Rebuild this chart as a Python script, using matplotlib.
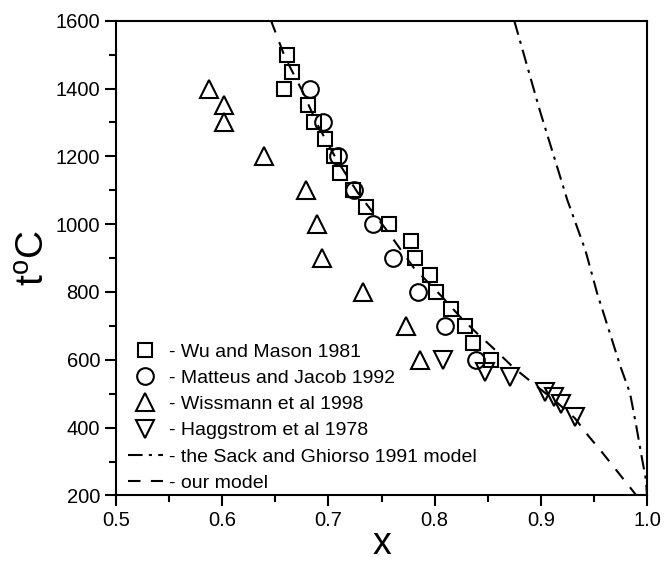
import matplotlib
matplotlib.use("Agg")
import matplotlib.pyplot as plt
from matplotlib.ticker import MultipleLocator, FormatStrFormatter

plt.rcParams['font.family'] = ['Liberation Sans', 'DejaVu Sans']
plt.rcParams['mathtext.fontset'] = 'custom'
plt.rcParams['mathtext.rm'] = 'Liberation Sans'

# Wu and Mason 1981 (squares)
wu_x = [0.661, 0.666, 0.658, 0.681, 0.686, 0.697, 0.705, 0.711, 0.723, 0.735,
        0.757, 0.778, 0.782, 0.796, 0.801, 0.815, 0.829, 0.836, 0.853]
wu_t = [1500, 1450, 1400, 1350, 1300, 1250, 1200, 1150, 1100, 1050,
        1000, 950, 900, 850, 800, 750, 700, 650, 600]

# Matteus and Jacob 1992 (circles)
mj_x = [0.683, 0.695, 0.709, 0.724, 0.742, 0.761, 0.784, 0.810, 0.839]
mj_t = [1400, 1300, 1200, 1100, 1000, 900, 800, 700, 600]

# Wissmann et al 1998 (triangles up)
wi_x = [0.588, 0.602, 0.602, 0.639, 0.679, 0.689, 0.694, 0.733, 0.773, 0.786]
wi_t = [1400, 1350, 1300, 1200, 1100, 1000, 900, 800, 700, 600]

# Haggstrom et al 1978 (triangles down)
ha_x = [0.808, 0.847, 0.871, 0.904, 0.912, 0.919, 0.932]
ha_t = [600, 565, 550, 505, 490, 470, 430]

# Sack and Ghiorso 1991 model
sg_x = [0.875, 0.899, 0.925, 0.942, 0.953, 0.965, 0.975, 0.984, 0.990, 0.995, 0.999, 1.0]
sg_t = [1600, 1336, 1071, 923, 797, 679, 580, 502, 403, 314, 246, 200]

# our model
om_x = [0.646, 0.659, 0.675, 0.690, 0.708, 0.728, 0.755, 0.780, 0.807, 0.824,
        0.840, 0.854, 0.874, 0.893, 0.915, 0.932, 0.945, 0.956, 0.971, 0.986, 0.990]
om_t = [1600, 1493, 1395, 1292, 1189, 1091, 982, 873, 786, 727,
        678, 638, 578, 530, 475, 428, 375, 334, 275, 216, 200]

fig = plt.figure(figsize=(6.64, 5.64), dpi=100)
ax = fig.add_axes([0.1747, 0.1215, 0.7997, 0.8418])

mk = dict(linestyle='none', markerfacecolor='none', markeredgecolor='black',
          markeredgewidth=1.5)
ax.plot(wu_x, wu_t, marker='s', markersize=10, label='- Wu and Mason 1981', **mk)
ax.plot(mj_x, mj_t, marker='o', markersize=12, label='- Matteus and Jacob 1992', **mk)
ax.plot(wi_x, wi_t, marker='^', markersize=13, label='- Wissmann et al 1998', **mk)
ax.plot(ha_x, ha_t, marker='v', markersize=13, label='- Haggstrom et al 1978', **mk)
ax.plot(sg_x, sg_t, color='black', lw=1.5, dashes=(7, 3, 1.5, 3),
        label='- the Sack and Ghiorso 1991 model')
ax.plot(om_x, om_t, color='black', lw=1.5, dashes=(6, 5), label='- our model')

ax.set_xlim(0.5, 1.0)
ax.set_ylim(200, 1600)
ax.xaxis.set_major_locator(MultipleLocator(0.1))
ax.xaxis.set_minor_locator(MultipleLocator(0.05))
ax.xaxis.set_major_formatter(FormatStrFormatter('%.1f'))
ax.yaxis.set_major_locator(MultipleLocator(200))
ax.yaxis.set_minor_locator(MultipleLocator(100))

ax.tick_params(which='both', direction='out', width=1.5, top=False, right=False,
               labelsize=14.5)
ax.tick_params(which='major', length=8)
ax.tick_params(which='minor', length=5)
for s in ax.spines.values():
    s.set_linewidth(1.5)

ax.set_xlabel('x', fontsize=27, labelpad=-3)
ax.set_ylabel(r't$^{\mathrm{o}}$C', fontsize=28, labelpad=3)

ax.legend(loc='lower left', bbox_to_anchor=(0.022, 0.008), borderaxespad=0,
          borderpad=0, frameon=False, fontsize=14, handlelength=1.8,
          handletextpad=0.3, labelspacing=0.44)

fig.savefig('out.png', dpi=100)
